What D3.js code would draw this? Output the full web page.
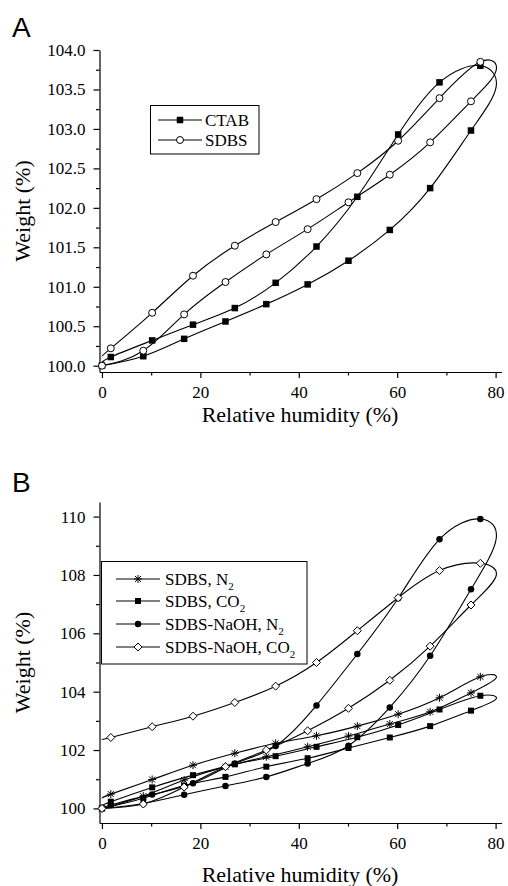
<!DOCTYPE html>
<html>
<head>
<meta charset="utf-8">
<script src="https://cdn.jsdelivr.net/npm/d3@7"></script>
<style>
body { margin: 0; background: #fff; }
svg text { font-family: "Liberation Serif", "Times New Roman", serif; }
svg text.panelLetter { font-family: "Liberation Sans", Arial, sans-serif; }
</style>
</head>
<body>
<svg id="fig" width="508" height="886"></svg>
<script>
// relative humidity steps: adsorption up, desorption down
var rhAds = [0, 8.4, 16.7, 25.1, 33.4, 41.8, 50.1, 58.5, 66.7, 75.0];
var rhDes = [76.9, 68.6, 60.2, 51.9, 43.6, 35.3, 27.0, 18.5, 10.2, 1.8];
var rhTurn = 80.1;   // turning point of the run, no symbol
var rhEnd = 0;       // end of the desorption run, no symbol

// panel A
var ctabAds = [100.0, 100.12, 100.34, 100.56, 100.78, 101.03, 101.33, 101.72, 102.25, 102.98];
var ctabDes = [103.80, 103.59, 102.93, 102.14, 101.51, 101.05, 100.73, 100.52, 100.32, 100.11];
var ctabTurnEnd = [103.53, 100.03];

var sdbsAds = [100.0, 100.19, 100.65, 101.06, 101.41, 101.73, 102.07, 102.42, 102.83, 103.35];
var sdbsDes = [103.85, 103.39, 102.85, 102.44, 102.11, 101.82, 101.52, 101.14, 100.67, 100.22];
var sdbsTurnEnd = [103.74, 100.12];

// panel B
var n2Ads = [100.0, 100.42, 100.97, 101.43, 101.77, 102.11, 102.48, 102.89, 103.31, 103.96];
var n2Des = [104.51, 103.79, 103.23, 102.82, 102.49, 102.23, 101.89, 101.48, 100.99, 100.49];
var n2TurnEnd = [104.47, 100.35];

var co2Ads = [100.0, 100.35, 100.78, 101.08, 101.43, 101.72, 102.07, 102.43, 102.82, 103.35];
var co2Des = [103.86, 103.39, 102.86, 102.44, 102.11, 101.79, 101.51, 101.14, 100.72, 100.23];
var co2TurnEnd = [103.75, 100.10];

var naN2Ads = [100.0, 100.17, 100.47, 100.77, 101.08, 101.54, 102.15, 103.46, 105.23, 107.51];
var naN2Des = [109.92, 109.22, 107.20, 105.29, 103.53, 102.14, 101.54, 100.86, 100.48, 100.12];
var naN2TurnEnd = [109.22, 100.02];

var naCo2Ads = [100.0, 100.15, 100.73, 101.43, 102.00, 102.66, 103.43, 104.39, 105.56, 106.97];
var naCo2Des = [108.40, 108.15, 107.22, 106.09, 105.00, 104.19, 103.63, 103.16, 102.80, 102.43];
var naCo2TurnEnd = [107.96, 102.37];

var xTickVals = [0, 20, 40, 60, 80];
var xMinorVals = [10, 30, 50, 70];
var yTickValsA = [100.0, 100.5, 101.0, 101.5, 102.0, 102.5, 103.0, 103.5, 104.0];
var yMinorValsA = [100.25, 100.75, 101.25, 101.75, 102.25, 102.75, 103.25, 103.75];
var yTickValsB = [100, 102, 104, 106, 108, 110];
var yMinorValsB = [101, 103, 105, 107, 109];

var SERIF = "Liberation Serif";
var AXIS_X0 = 99.5, AXIS_X1 = 501.5;

var svg = d3.select("#fig");

function run_points(ads, des, turnEnd) {
    var pts = ads.map(function(w, i) { return [rhAds[i], w]; });
    pts.push([rhTurn, turnEnd[0]]);
    des.forEach(function(w, i) { pts.push([rhDes[i], w]); });
    pts.push([rhEnd, turnEnd[1]]);
    return pts;
}

function symbol_points(ads, des) {
    var pts = ads.map(function(w, i) { return [rhAds[i], w]; });
    des.forEach(function(w, i) { pts.push([rhDes[i], w]); });
    return pts;
}

function draw_marker(g, type, cx, cy, sz) {
    if (type == "square") {
        g.append("rect")
            .attr("x", cx - sz / 2).attr("y", cy - sz / 2)
            .attr("width", sz).attr("height", sz)
            .style("fill", "#000");
    }
    else if (type == "circle") {
        g.append("circle")
            .attr("cx", cx).attr("cy", cy).attr("r", sz / 2)
            .style("fill", "#fff").style("stroke", "#000").style("stroke-width", 1);
    }
    else if (type == "dot") {
        g.append("circle")
            .attr("cx", cx).attr("cy", cy).attr("r", sz / 2)
            .style("fill", "#000");
    }
    else if (type == "diamond") {
        var h = sz / 2;
        g.append("path")
            .attr("d", "M" + cx + "," + (cy - h) + "L" + (cx + h) + "," + cy +
                       "L" + cx + "," + (cy + h) + "L" + (cx - h) + "," + cy + "Z")
            .style("fill", "#fff").style("stroke", "#000").style("stroke-width", 1);
    }
    else if (type == "star") {
        var r = sz / 2, d = r * 0.75;
        g.append("path")
            .attr("d", "M" + cx + "," + (cy - r) + "L" + cx + "," + (cy + r) +
                       "M" + (cx - d) + "," + (cy - d) + "L" + (cx + d) + "," + (cy + d) +
                       "M" + (cx - d) + "," + (cy + d) + "L" + (cx + d) + "," + (cy - d) +
                       "M" + (cx - r) + "," + cy + "L" + (cx + r) + "," + cy)
            .style("fill", "none").style("stroke", "#000").style("stroke-width", 1);
    }
}

function draw_panel(p) {
    var x = d3.scaleLinear().domain([-0.5, 81.2]).range([AXIS_X0, AXIS_X1]);
    var y = d3.scaleLinear().domain(p.yDomain).range([p.yBottom, p.yTop]);

    var line = d3.line()
        .x(function(d) { return x(d[0]); })
        .y(function(d) { return y(d[1]); })
        .curve(d3.curveNatural);

    // minor ticks
    svg.append("g")
        .attr("transform", "translate(0," + p.yBottom + ")")
        .call(d3.axisBottom(x).tickValues(xMinorVals).tickSize(3.5).tickFormat(""))
        .call(function(g) { g.select(".domain").remove(); })
        .selectAll("line").style("stroke-width", 1.2);
    svg.append("g")
        .attr("transform", "translate(" + AXIS_X0 + ",0)")
        .call(d3.axisLeft(y).tickValues(p.yMinor).tickSize(3.5).tickFormat(""))
        .call(function(g) { g.select(".domain").remove(); })
        .selectAll("line").style("stroke-width", 1.2);

    var xAxis = svg.append("g")
        .attr("transform", "translate(0," + p.yBottom + ")")
        .call(d3.axisBottom(x).tickValues(xTickVals).tickSize(6).tickSizeOuter(0).tickPadding(8));
    var yAxis = svg.append("g")
        .attr("transform", "translate(" + AXIS_X0 + ",0)")
        .call(d3.axisLeft(y).tickValues(p.yTicks).tickSize(6).tickSizeOuter(0).tickPadding(8)
              .tickFormat(d3.format(p.yFmt)));

    [xAxis, yAxis].forEach(function(a) {
        a.attr("font-family", SERIF).attr("font-size", 17);
        a.select(".domain").style("stroke-width", 1.2);
        a.selectAll(".tick line").style("stroke-width", 1.2);
        a.selectAll("text")
            .attr("font-family", SERIF)
            .style("font-size", "17px")
            .style("fill", "#000");
    });

    // axis titles
    svg.append("text")
        .attr("x", 300)
        .attr("y", p.xTitleY)
        .attr("text-anchor", "middle")
        .attr("font-family", SERIF)
        .style("font-size", "22px")
        .text("Relative humidity (%)");

    svg.append("text")
        .attr("transform", "rotate(-90)")
        .attr("x", -(p.yTop + p.yBottom) / 2)
        .attr("y", 30)
        .attr("text-anchor", "middle")
        .attr("font-family", SERIF)
        .style("font-size", "22px")
        .text("Weight (%)");

    svg.append("text")
        .attr("class", "panelLetter")
        .attr("x", 12)
        .attr("y", p.letterY)
        .style("font-size", "28px")
        .text(p.letter);

    // series
    p.series.forEach(function(s) {
        var g = svg.append("g");
        g.append("path")
            .datum(run_points(s.ads, s.des, s.turnEnd))
            .attr("d", line)
            .style("fill", "none")
            .style("stroke", "#000")
            .style("stroke-width", 1.1);
        symbol_points(s.ads, s.des).forEach(function(d) {
            draw_marker(g, s.marker, x(d[0]), y(d[1]), s.size);
        });
    });

    // legend
    var lg = svg.append("g");
    lg.append("rect")
        .attr("x", p.legend.x).attr("y", p.legend.y)
        .attr("width", p.legend.w).attr("height", p.legend.h)
        .style("fill", "#fff").style("stroke", "#000").style("stroke-width", 1);

    p.series.forEach(function(s, i) {
        var ly = p.legend.rows[i];
        lg.append("line")
            .attr("x1", p.legend.lx0).attr("x2", p.legend.lx1)
            .attr("y1", ly).attr("y2", ly)
            .style("stroke", "#000").style("stroke-width", 1);
        draw_marker(lg, s.marker, (p.legend.lx0 + p.legend.lx1) / 2, ly, s.size);
        var t = lg.append("text")
            .attr("x", p.legend.tx)
            .attr("y", ly + 6)
            .attr("font-family", SERIF)
            .style("font-size", "17px");
        t.append("tspan").text(s.name);
        if (s.sub) {
            t.append("tspan")
                .attr("dy", 5)
                .style("font-size", "11px")
                .text(s.sub);
        }
    });
}

draw_panel({
    letter: "A", letterY: 37,
    yDomain: [99.92, 104.0], yTop: 50, yBottom: 372,
    yTicks: yTickValsA, yMinor: yMinorValsA, yFmt: ".1f",
    xTitleY: 422,
    series: [
        {name: "CTAB", marker: "square", size: 6.5, ads: ctabAds, des: ctabDes, turnEnd: ctabTurnEnd},
        {name: "SDBS", marker: "circle", size: 7, ads: sdbsAds, des: sdbsDes, turnEnd: sdbsTurnEnd}
    ],
    legend: {x: 150.5, y: 105.5, w: 108.5, h: 48.5, rows: [120, 140], lx0: 158, lx1: 202, tx: 205}
});

draw_panel({
    letter: "B", letterY: 492,
    yDomain: [99.5, 110.5], yTop: 502, yBottom: 823,
    yTicks: yTickValsB, yMinor: yMinorValsB, yFmt: "d",
    xTitleY: 882,
    series: [
        {name: "SDBS, N", sub: "2", marker: "star", size: 8, ads: n2Ads, des: n2Des, turnEnd: n2TurnEnd},
        {name: "SDBS, CO", sub: "2", marker: "square", size: 6, ads: co2Ads, des: co2Des, turnEnd: co2TurnEnd},
        {name: "SDBS-NaOH, N", sub: "2", marker: "dot", size: 6.5, ads: naN2Ads, des: naN2Des, turnEnd: naN2TurnEnd},
        {name: "SDBS-NaOH, CO", sub: "2", marker: "diamond", size: 8, ads: naCo2Ads, des: naCo2Des, turnEnd: naCo2TurnEnd}
    ],
    legend: {x: 101.5, y: 561.5, w: 205.5, h: 102.5, rows: [579, 601, 624, 647], lx0: 116, lx1: 160, tx: 165}
});
</script>
</body>
</html>
